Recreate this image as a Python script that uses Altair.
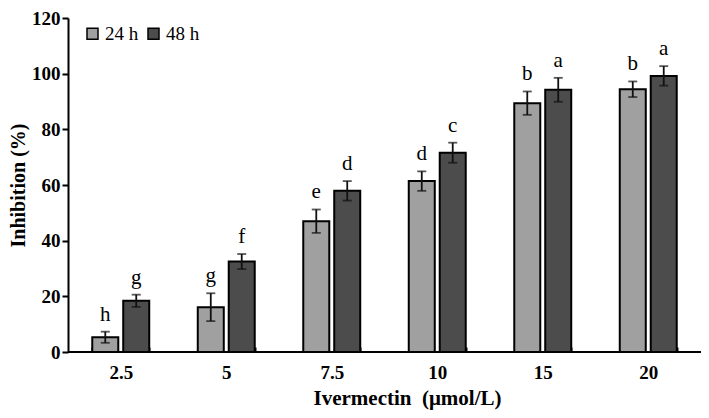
import altair as alt
import pandas as pd

conc = ["2.5", "5", "7.5", "10", "15", "20"]
series = ["24 h", "48 h"]
inhib_24 = [5.3, 16.1, 47.0, 61.4, 89.4, 94.4]
inhib_48 = [18.4, 32.5, 57.9, 71.6, 94.2, 99.2]
err_24 = [2.0, 5.0, 4.2, 3.5, 4.2, 2.8]
err_48 = [2.2, 2.7, 3.5, 3.6, 4.3, 3.5]
sig_24 = ["h", "g", "e", "d", "b", "b"]
sig_48 = ["g", "f", "d", "c", "a", "a"]

rows = []
for i, c in enumerate(conc):
    rows.append({"conc": c, "series": "24 h", "val": inhib_24[i], "err": err_24[i], "sig": sig_24[i]})
    rows.append({"conc": c, "series": "48 h", "val": inhib_48[i], "err": err_48[i], "sig": sig_48[i]})
df = pd.DataFrame(rows)
df["lo"] = df["val"] - df["err"]
df["hi"] = df["val"] + df["err"]

FONT = "Liberation Serif"

x_enc = alt.X(
    "conc:N",
    sort=conc,
    scale=alt.Scale(paddingInner=0.46, paddingOuter=0.23),
    axis=alt.Axis(
        title="Ivermectin\u00a0 (μmol/L)",
        labelAngle=0,
        tickBand="extent",
        offset=-5,
        domain=False,
        tickSize=5,
        tickWidth=2,
        tickColor="black",
        labelPadding=11,
        labelFont=FONT,
        labelFontSize=19,
        labelFontWeight="bold",
        labelColor="black",
        titleFont=FONT,
        titleFontSize=21,
        titleFontWeight="bold",
        titleColor="black",
        titlePadding=5,
        titleX=339,
    ),
)
xoff = alt.XOffset("series:N", sort=series, scale=alt.Scale(paddingInner=0.16, paddingOuter=0))
y_scale = alt.Scale(domain=[0, 120], nice=False)

bars = alt.Chart(df).mark_bar(stroke="black", strokeWidth=2).encode(
    x=x_enc,
    xOffset=xoff,
    y=alt.Y(
        "val:Q",
        scale=y_scale,
        axis=alt.Axis(
            title="Inhibition (%)",
            values=[0, 20, 40, 60, 80, 100, 120],
            grid=False,
            domainColor="black",
            domainWidth=2,
            tickColor="black",
            tickWidth=2,
            tickSize=6,
            labelPadding=2,
            labelFont=FONT,
            labelFontSize=19,
            labelFontWeight="bold",
            labelColor="black",
            titleFont=FONT,
            titleFontSize=20,
            titleFontWeight="bold",
            titleColor="black",
            titlePadding=3,
        ),
    ),
    color=alt.Color(
        "series:N",
        sort=series,
        scale=alt.Scale(domain=series, range=["#a0a0a0", "#4c4c4c"]),
        legend=alt.Legend(
            title=None,
            orient="none",
            legendX=15,
            legendY=6,
            direction="horizontal",
            symbolType="square",
            symbolSize=121,
            symbolStrokeColor="black",
            symbolStrokeWidth=1.5,
            labelFont=FONT,
            labelFontSize=19,
            labelColor="black",
            labelOffset=3,
            columnPadding=5,
        ),
    ),
)

rules = alt.Chart(df).mark_rule(color="#111111", strokeWidth=1.8).encode(
    x=alt.X("conc:N", sort=conc), xOffset=xoff, y=alt.Y("lo:Q", scale=y_scale), y2="hi:Q"
)
caps_hi = alt.Chart(df).mark_tick(color="#111111", orient="horizontal", size=9, thickness=1.8).encode(
    x=alt.X("conc:N", sort=conc), xOffset=xoff, y=alt.Y("hi:Q", scale=y_scale)
)
caps_lo = alt.Chart(df).mark_tick(color="#111111", orient="horizontal", size=9, thickness=1.8).encode(
    x=alt.X("conc:N", sort=conc), xOffset=xoff, y=alt.Y("lo:Q", scale=y_scale)
)
letters = alt.Chart(df).mark_text(
    font=FONT, fontSize=21, color="black", baseline="alphabetic", dy=-11
).encode(
    x=alt.X("conc:N", sort=conc), xOffset=xoff, y=alt.Y("hi:Q", scale=y_scale), text="sig:N"
)
baseline = alt.Chart(pd.DataFrame({"y": [0]})).mark_rule(color="black", strokeWidth=2).encode(
    y=alt.Y("y:Q", scale=y_scale)
)

chart = (
    alt.layer(bars, rules, caps_hi, caps_lo, letters, baseline)
    .properties(
        width=633,
        height=334,
        autosize=alt.AutoSizeParams(type="none"),
        padding={"left": 60, "top": 10, "right": 0, "bottom": 58},
        background="white",
    )
    .configure_view(stroke=None)
)

chart.save("out.html", embed_options={"renderer": "svg", "actions": False})
